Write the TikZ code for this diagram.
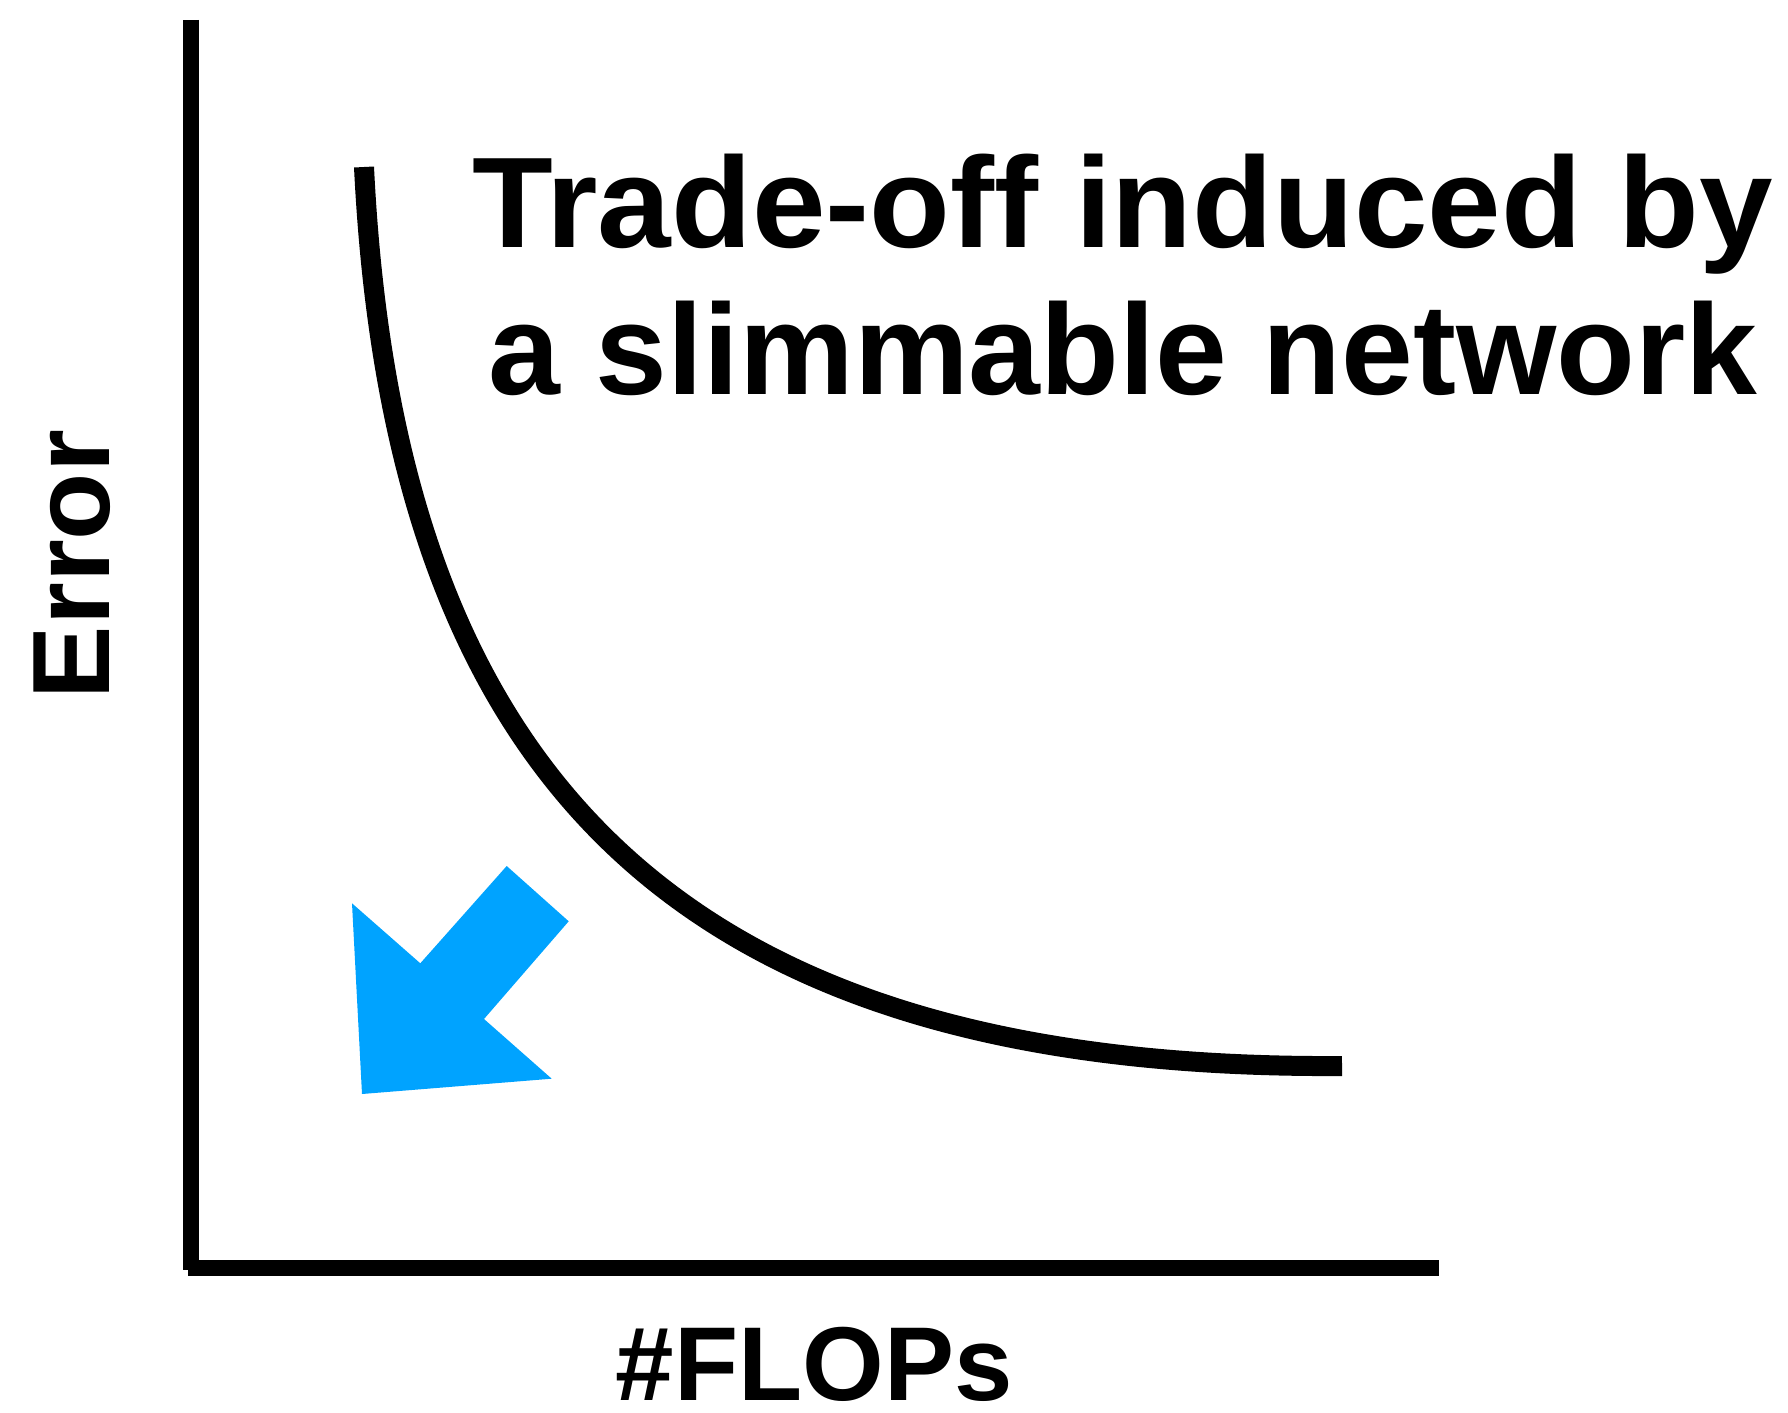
\documentclass[tikz,border=0pt]{standalone}
\usepackage{fontspec}
\setmainfont{Liberation Sans}
\definecolor{arrowblue}{RGB}{0,163,255}
\tikzset{
  axisline/.style={line width=16pt, line cap=butt},
  curveline/.style={line width=20pt, line cap=butt},
  lbl/.style={inner sep=0pt, outer sep=0pt, font=\bfseries},
  titlefont/.style={font=\bfseries\fontsize{129}{147}\selectfont\addfontfeature{FakeStretch=1.025}},
  titlefonttwo/.style={font=\bfseries\fontsize{129}{147}\selectfont},
}
\begin{document}
\begin{tikzpicture}[x=1pt,y=-1pt]
\useasboundingbox (0,0) rectangle (1788,1413);
% axes
\coordinate (ytop) at (190.5,20);
\coordinate (ybot) at (190.5,1270);
\coordinate (xleft) at (188,1268);
\coordinate (xright) at (1439,1268);
\draw[axisline] (ytop) -- (ybot);
\draw[axisline] (xleft) -- (xright);
% trade-off curve
\coordinate (cstart) at (364,167);
\coordinate (cend) at (1342,1066);
\draw[curveline] (cstart) .. controls (395,800) and (700,1070) .. (cend);
% blue arrow
\fill[arrowblue] (352,903.3) -- (420.3,963.3) -- (506.7,866) -- (568.7,921.3)
  -- (484,1019) -- (551.7,1078.7) -- (362,1094) -- cycle;
% labels
\node[lbl, anchor=base, titlefont] (title1) at (1123,247.5) {Trade-off induced by};
\node[lbl, anchor=base, titlefonttwo] (title2) at (1123,394.5) {a slimmable network};
\node[lbl, anchor=base, rotate=90, font=\bfseries\fontsize{110}{130}\selectfont] (ylabel) at (109.5,564.5) {Error};
\node[lbl, anchor=base, font=\bfseries\fontsize{105}{125}\selectfont] (xlabel) at (814,1400) {\#FLOPs};
\end{tikzpicture}
\end{document}
